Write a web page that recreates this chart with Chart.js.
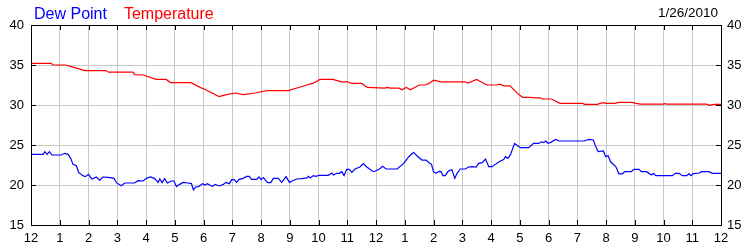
<!DOCTYPE html>
<html>
<head>
<meta charset="utf-8">
<script src="https://cdn.jsdelivr.net/npm/chart.js@4/dist/chart.umd.min.js"></script>
<style>
  html, body { margin: 0; padding: 0; background: #fff; }
  #wrap { width: 750px; height: 250px; }
</style>
</head>
<body>
<div id="wrap"><canvas id="c" width="750" height="250"></canvas></div>
<script>
const hourLabels = ['12','1','2','3','4','5','6','7','8','9','10','11','12','1','2','3','4','5','6','7','8','9','10','11','12'];
const yTicks = [15, 20, 25, 30, 35, 40];
const dateLabel = '1/26/2010';

const tempHours = [0,0.7,0.77,1.2,1.5,1.87,2.6,2.7,3.55,3.6,3.9,4.35,4.7,4.85,5.57,5.88,6.08,6.54,6.8,7.1,7.38,7.8,8.2,8.95,9.36,9.6,9.8,10.05,10.5,10.8,11.0,11.15,11.5,11.7,12.3,12.4,12.5,12.8,12.9,13.05,13.2,13.5,13.7,13.85,14.0,14.3,14.4,15.1,15.2,15.5,15.8,15.9,16.2,16.3,16.45,16.66,16.97,17.1,17.4,17.5,17.7,17.8,18.1,18.4,19.2,19.25,19.7,19.8,19.9,20.0,20.3,20.45,20.9,21.05,21.2,22.0,22.05,22.1,23.5,23.6,23.75,24];
const tempValues = [35.2,35.2,35.0,35.0,34.7,34.3,34.3,34.1,34.1,33.8,33.75,33.2,33.2,32.8,32.8,32.2,31.9,31.05,31.3,31.5,31.3,31.5,31.8,31.8,32.25,32.5,32.7,33.2,33.2,32.9,32.9,32.7,32.7,32.2,32.1,32.2,32.1,32.1,31.9,32.2,31.9,32.5,32.5,32.7,33.1,32.85,32.9,32.9,32.75,33.2,32.6,32.5,32.5,32.6,32.4,32.4,31.3,30.96,30.96,30.9,30.9,30.75,30.75,30.2,30.2,30.08,30.08,30.2,30.3,30.2,30.2,30.33,30.33,30.2,30.1,30.1,30.2,30.1,30.1,29.96,30.08,30.08];

const dewHours = [0,0.42,0.48,0.56,0.64,0.73,1.05,1.17,1.29,1.38,1.46,1.58,1.66,1.81,1.89,2.0,2.12,2.27,2.39,2.5,2.68,2.89,2.97,3.14,3.26,3.6,3.72,3.9,4.01,4.16,4.3,4.42,4.48,4.56,4.65,4.74,4.88,4.97,5.06,5.17,5.29,5.46,5.58,5.65,5.73,5.83,5.97,6.05,6.13,6.23,6.32,6.4,6.55,6.69,6.78,6.9,6.98,7.07,7.15,7.24,7.38,7.5,7.59,7.67,7.85,7.93,8.0,8.08,8.23,8.34,8.43,8.6,8.72,8.87,8.99,9.1,9.24,9.42,9.59,9.65,9.71,9.82,9.9,10.03,10.34,10.46,10.52,10.63,10.72,10.81,10.89,10.98,11.07,11.16,11.27,11.44,11.56,11.68,11.79,11.91,11.98,12.12,12.23,12.35,12.73,12.96,13.14,13.31,13.43,13.6,13.74,13.86,13.93,14.0,14.09,14.2,14.26,14.33,14.41,14.51,14.64,14.74,14.82,14.93,15.1,15.22,15.34,15.48,15.57,15.69,15.81,15.92,16.04,16.18,16.33,16.44,16.5,16.59,16.68,16.82,17.02,17.31,17.48,17.66,17.75,17.83,17.91,17.98,18.08,18.25,18.37,19.24,19.41,19.56,19.64,19.73,19.91,19.99,20.07,20.16,20.34,20.45,20.57,20.65,20.88,20.97,21.15,21.23,21.41,21.58,21.65,21.73,22.31,22.41,22.54,22.66,22.81,22.89,22.95,23.04,23.24,23.32,23.58,23.7,24];
const dewValues = [23.83,23.83,24.17,23.83,24.17,23.75,23.75,23.96,23.83,23.33,22.58,22.4,21.54,21.17,21.04,21.33,20.75,21.0,20.6,21.0,20.96,20.83,20.29,19.9,20.25,20.25,20.54,20.5,20.83,21.0,20.8,20.33,20.75,20.29,20.79,20.25,20.5,20.5,19.8,20.08,20.33,20.25,20.17,19.38,19.75,19.8,20.17,20.0,20.17,19.96,19.83,20.08,19.88,20.08,20.33,20.17,20.67,20.67,20.33,20.71,20.83,21.08,21.08,20.71,20.71,21.0,20.67,20.92,20.29,20.29,20.83,20.83,20.33,21.04,20.33,20.54,20.75,20.79,20.88,21.08,20.88,21.17,21.08,21.21,21.21,21.5,21.25,21.46,21.46,21.67,21.17,21.96,21.96,21.58,22.0,22.25,22.67,22.25,21.96,21.67,21.75,22.0,22.33,22.0,22.0,22.67,23.54,24.08,23.62,23.12,23.12,22.75,22.58,21.67,21.46,21.71,21.67,21.17,21.17,21.71,21.92,20.83,21.46,22.0,22.0,22.25,22.29,22.25,22.71,22.79,23.25,22.29,22.29,22.67,23.0,23.17,23.54,23.33,23.83,25.2,24.67,24.67,25.2,25.2,25.4,25.3,25.5,25.2,25.33,25.7,25.5,25.5,25.7,25.625,24.8,24.17,24.25,23.54,23.67,22.9,22.3,21.4,21.4,21.67,21.67,21.96,21.96,21.67,21.67,21.25,21.46,21.17,21.17,21.46,21.46,21.17,21.17,21.42,21.17,21.42,21.5,21.67,21.67,21.46,21.46];

const toPoints = (xs, ys) => xs.map((x, i) => ({ x: x, y: ys[i] }));

const FONT = 'Liberation Sans, Arial, sans-serif';

const framePlugin = {
  id: 'frame',
  afterDraw(chart) {
    const ctx = chart.ctx;
    const a = chart.chartArea;
    const xs = chart.scales.x, ys = chart.scales.y;
    ctx.save();
    ctx.strokeStyle = '#000';
    ctx.lineWidth = 1;
    ctx.strokeRect(Math.round(a.left) + 0.5, Math.round(a.top) + 0.5, Math.round(a.right - a.left), Math.round(a.bottom - a.top));
    ctx.beginPath();
    xs.ticks.forEach(t => {
      const px = Math.round(xs.getPixelForValue(t.value)) + 0.5;
      ctx.moveTo(px, a.bottom); ctx.lineTo(px, a.bottom - 5);
      ctx.moveTo(px, a.top); ctx.lineTo(px, a.top + 5);
    });
    ys.ticks.forEach(t => {
      const py = Math.round(ys.getPixelForValue(t.value)) + 0.5;
      ctx.moveTo(a.left, py); ctx.lineTo(a.left + 5, py);
      ctx.moveTo(a.right, py); ctx.lineTo(a.right - 5, py);
    });
    ctx.stroke();
    // legend texts
    ctx.font = '16px ' + FONT;
    ctx.textBaseline = 'alphabetic';
    ctx.textAlign = 'left';
    let lx = 34;
    chart.data.datasets.forEach(ds => {
      ctx.fillStyle = ds.borderColor;
      ctx.fillText(ds.label, lx, 18.5);
      lx += ctx.measureText(ds.label).width + 17;
    });
    ctx.font = '13.5px ' + FONT;
    ctx.fillStyle = '#000';
    ctx.textAlign = 'right';
    ctx.fillText(dateLabel, 718, 17);
    ctx.restore();
  }
};

new Chart(document.getElementById('c'), {
  type: 'line',
  data: {
    datasets: [
      { label: 'Dew Point', data: toPoints(dewHours, dewValues), borderColor: '#0000ff', backgroundColor: '#0000ff', borderWidth: 1.2, pointRadius: 0, tension: 0, yAxisID: 'y' },
      { label: 'Temperature', data: toPoints(tempHours, tempValues), borderColor: '#ff0000', backgroundColor: '#ff0000', borderWidth: 1.2, pointRadius: 0, tension: 0, yAxisID: 'y' }
    ]
  },
  options: {
    responsive: false,
    animation: false,
    layout: { padding: { top: 25, left: 0, right: 0, bottom: 0 } },
    plugins: { legend: { display: false }, tooltip: { enabled: false }, title: { display: false } },
    scales: {
      x: {
        type: 'linear', min: 0, max: 24,
        afterBuildTicks: s => { s.ticks = hourLabels.map((_, i) => ({ value: i })); },
        afterFit: s => { s.height = 25; },
        ticks: { autoSkip: false, maxRotation: 0, padding: 6, color: '#000', font: { family: FONT, size: 13 }, callback: v => hourLabels[v] },
        grid: { color: '#c8c8c8', drawTicks: false },
        border: { display: true, color: '#000' }
      },
      y: {
        position: 'left', min: 15, max: 40,
        afterBuildTicks: s => { s.ticks = yTicks.map(v => ({ value: v })); },
        afterFit: s => { s.width = 31; },
        ticks: { padding: 7, color: '#000', font: { family: FONT, size: 13 } },
        grid: { color: '#c8c8c8', drawTicks: false },
        border: { display: true, color: '#000' }
      },
      y2: {
        position: 'right', min: 15, max: 40,
        afterBuildTicks: s => { s.ticks = yTicks.map(v => ({ value: v })); },
        afterFit: s => { s.width = 29; },
        ticks: { padding: 6, color: '#000', font: { family: FONT, size: 13 } },
        grid: { display: false, drawTicks: false },
        border: { display: true, color: '#000' }
      }
    }
  },
  plugins: [framePlugin]
});
</script>
</body>
</html>
